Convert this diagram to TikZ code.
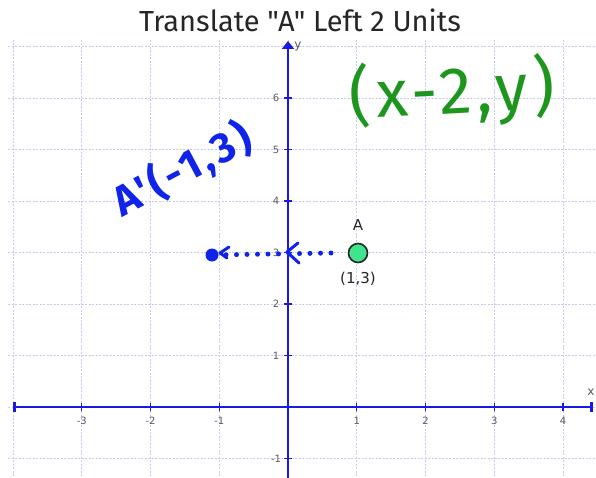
\documentclass[tikz,border=0pt]{standalone}
\usepackage{fontspec}
\setmainfont{DejaVu Sans}
\newfontfamily\titlefont{Fira Sans}
\newfontfamily\handfont[LetterSpace=8]{Fira Sans}
\usetikzlibrary{arrows.meta}
\definecolor{gridcol}{RGB}{200,200,240}
\definecolor{axisblue}{RGB}{25,25,230}
\definecolor{inkblue}{RGB}{15,35,235}
\definecolor{inkgreen}{RGB}{30,150,30}
\definecolor{ptgreen}{RGB}{64,228,140}
\definecolor{labgrey}{RGB}{90,90,90}
\tikzset{
  gridline/.style={gridcol, line width=0.9pt, dash pattern=on 2pt off 1.5pt},
  axisline/.style={axisblue, line width=2.6pt},
  tickline/.style={axisblue, line width=1.2pt},
  ticklab/.style={labgrey, font=\fontsize{10}{11}\selectfont, inner sep=0pt},
  ptlab/.style={black!85, font=\fontsize{15}{17}\selectfont, inner sep=0pt},
  ink/.style={inkblue, line width=3pt, line cap=round, line join=round}
}
\begin{document}
\begin{tikzpicture}[x=1pt,y=-1pt]
\useasboundingbox (0,0) rectangle (596,478);
\fill[white] (0,0) rectangle (596,478);
% grid
\foreach \k in {-4,...,4} \draw[gridline] ({288+68.75*\k},40) -- ({288+68.75*\k},478);
\foreach \k in {-1,...,7} \draw[gridline] (8,{407-51.5*\k}) -- (596,{407-51.5*\k});
% title
\node[font=\titlefont\fontsize{29}{31}\selectfont, text=black!85] (title) at (300,20) {Translate "A" Left 2 Units};
% axes
\coordinate (xl) at (13,407);
\coordinate (xr) at (593,407);
\coordinate (yb) at (288,478);
\coordinate (yt) at (288,41);
\draw[axisline, {Bar[width=10pt]}-{Bar[width=10pt]}] (xl) -- (xr);
\draw[axisline, -{Triangle[width=12pt,length=8pt]}] (yb) -- (yt);
\node[ticklab, font=\fontsize{12}{12}\selectfont] (xlab) at (591,392) {x};
\node[ticklab, font=\fontsize{12}{12}\selectfont] (ylab) at (298,46) {y};
% ticks
\foreach \k in {-3,-2,-1,1,2,3,4} {
  \draw[tickline] ({288+68.75*\k},403) -- ({288+68.75*\k},411);
  \node[ticklab] (xt\k) at ({288+68.75*\k},421) {\k};
}
\foreach \k in {-1,1,2,3,4,5,6} {
  \draw[tickline] (284,{407-51.5*\k}) -- (292,{407-51.5*\k});
  \node[ticklab] (yt\k) at (276,{407-51.5*\k}) {\k};
}
% point A
\node[circle, draw=black!85, line width=1.6pt, fill=ptgreen, minimum size=19pt, inner sep=0pt] (A) at (358,253) {};
\node[ptlab] (Alab) at (358,225) {A};
\node[ptlab] (Acoord) at (358,279) {(1,3)};
% dotted translation arrow
\coordinate (s) at (331,253);
\coordinate (e) at (212,255);
\draw[inkblue, line width=5pt, line cap=round, dash pattern=on 0pt off 10.5pt] (s) -- (e);
\fill[inkblue] (e) circle (6.5pt);
\draw[ink] (298,243) -- (287,252) -- (299,263);
\draw[ink] (229,247) -- (220,253) -- (227,258);
% handwritten labels
\node[inkblue, rotate=28, font=\handfont\bfseries\fontsize{42}{44}\selectfont] (Aprime) at (182,170) {A'(-1,3)};
\node[inkgreen, rotate=3, font=\handfont\fontsize{66}{68}\selectfont] (rule) at (452,93) {(x-2,y)};
\end{tikzpicture}
\end{document}
